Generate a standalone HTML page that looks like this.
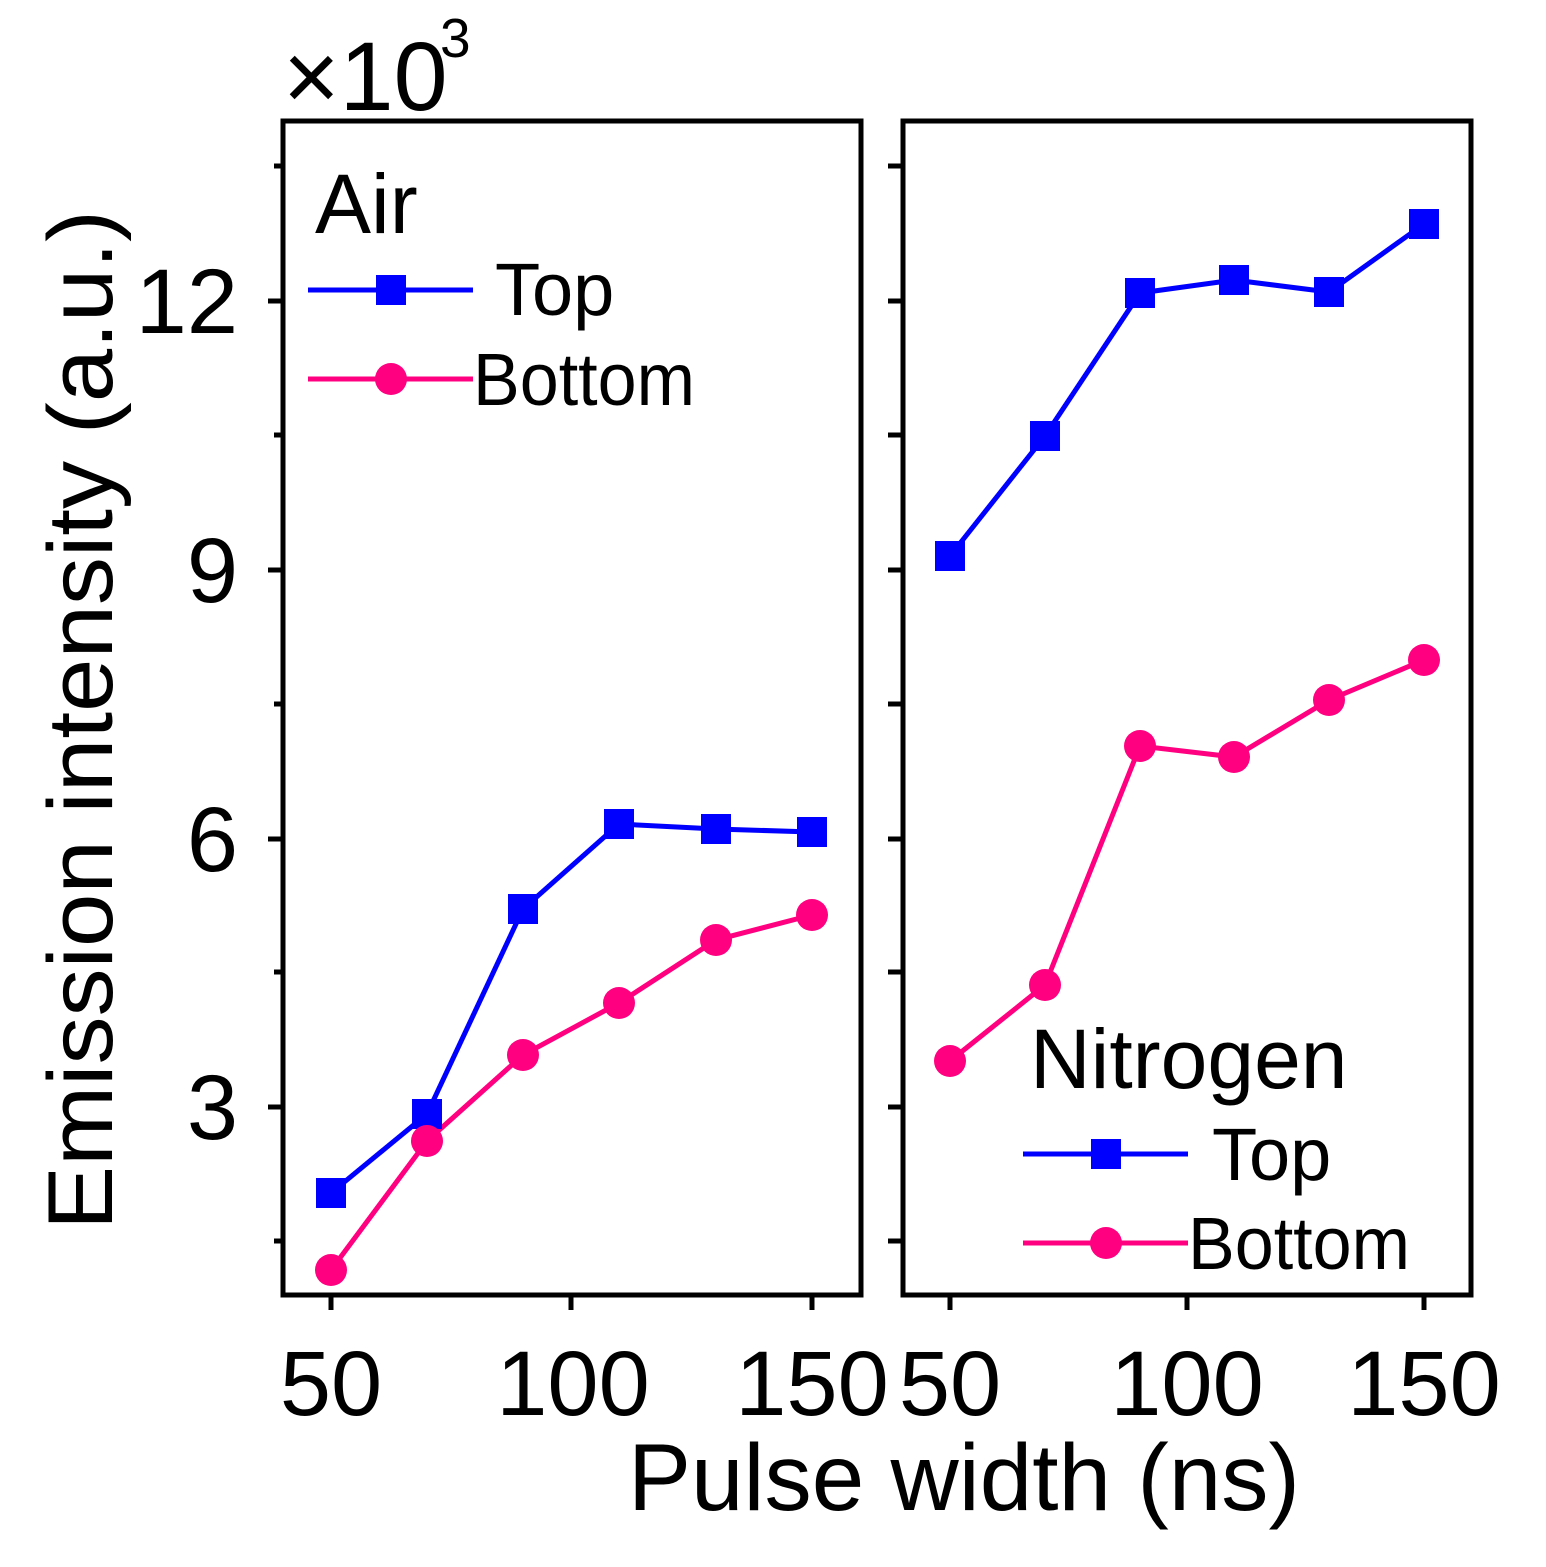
<!DOCTYPE html>
<html><head><meta charset="utf-8"><style>body{margin:0;background:#fff}</style></head><body>
<svg width="1546" height="1562" xmlns="http://www.w3.org/2000/svg" font-family="Liberation Sans, sans-serif">
<rect width="1546" height="1562" fill="#fff"/>
<g stroke="#000" stroke-width="5" fill="none">
<rect x="283" y="121" width="578" height="1174"/>
<rect x="903" y="121" width="568" height="1174"/>
<path d="M268 301H283M268 570H283M268 839H283M268 1107H283M274 166H283M274 435H283M274 704H283M274 972H283M274 1241H283"/>
<path d="M888 301H903M888 570H903M888 839H903M888 1107H903M888 166H903M888 435H903M888 704H903M888 972H903M888 1241H903"/>
<path d="M331 1295V1310M571 1295V1310M812 1295V1310M950 1295V1310M1187 1295V1310M1424 1295V1310"/>
</g>
<g font-size="92" text-anchor="end">
<text x="238" y="333">12</text><text x="238" y="602">9</text><text x="238" y="871">6</text><text x="238" y="1139">3</text>
</g>
<g font-size="92" text-anchor="middle">
<text x="331" y="1415">50</text><text x="573" y="1415">100</text><text x="812" y="1415">150</text>
<text x="950" y="1415">50</text><text x="1187" y="1415">100</text><text x="1424" y="1415">150</text>
</g>
<text x="964" y="1510" font-size="95" text-anchor="middle" textLength="672" lengthAdjust="spacingAndGlyphs">Pulse width (ns)</text>
<text transform="translate(112,720) rotate(-90)" font-size="92" text-anchor="middle" textLength="1020" lengthAdjust="spacingAndGlyphs">Emission intensity (a.u.)</text>
<text x="283" y="110" font-size="97">×10</text>
<text x="440" y="57" font-size="55">3</text>
<polyline points="331,1193 427,1114 523,909 619,824 716,829 812,832" fill="none" stroke="#0000ff" stroke-width="5"/>
<polyline points="331,1270 427,1141 523,1055 619,1003 716,940 812,915" fill="none" stroke="#ff0080" stroke-width="5"/>
<g fill="#0000ff"><rect x="316" y="1178" width="30" height="30"/><rect x="412" y="1099" width="30" height="30"/><rect x="508" y="894" width="30" height="30"/><rect x="604" y="809" width="30" height="30"/><rect x="701" y="814" width="30" height="30"/><rect x="797" y="817" width="30" height="30"/></g>
<g fill="#ff0080"><circle cx="331" cy="1270" r="16"/><circle cx="427" cy="1141" r="16"/><circle cx="523" cy="1055" r="16"/><circle cx="619" cy="1003" r="16"/><circle cx="716" cy="940" r="16"/><circle cx="812" cy="915" r="16"/></g>
<polyline points="950,556 1045,436 1140,293 1234,280 1329,292 1424,224" fill="none" stroke="#0000ff" stroke-width="5"/>
<polyline points="950,1061 1045,985 1140,746 1234,757 1329,700 1424,660" fill="none" stroke="#ff0080" stroke-width="5"/>
<g fill="#0000ff"><rect x="935" y="541" width="30" height="30"/><rect x="1030" y="421" width="30" height="30"/><rect x="1125" y="278" width="30" height="30"/><rect x="1219" y="265" width="30" height="30"/><rect x="1314" y="277" width="30" height="30"/><rect x="1409" y="209" width="30" height="30"/></g>
<g fill="#ff0080"><circle cx="950" cy="1061" r="16"/><circle cx="1045" cy="985" r="16"/><circle cx="1140" cy="746" r="16"/><circle cx="1234" cy="757" r="16"/><circle cx="1329" cy="700" r="16"/><circle cx="1424" cy="660" r="16"/></g>
<text x="315" y="233" font-size="84">Air</text>
<line x1="308" y1="290" x2="473" y2="290" stroke="#0000ff" stroke-width="5"/><rect x="376" y="275" width="30" height="30" fill="#0000ff"/>
<text x="495" y="315" font-size="74">Top</text>
<line x1="308" y1="379" x2="473" y2="379" stroke="#ff0080" stroke-width="5"/><circle cx="391" cy="379" r="16" fill="#ff0080"/>
<text x="473" y="405" font-size="74" textLength="222" lengthAdjust="spacingAndGlyphs">Bottom</text>
<text x="1030" y="1088" font-size="84">Nitrogen</text>
<line x1="1023" y1="1154" x2="1188" y2="1154" stroke="#0000ff" stroke-width="5"/><rect x="1091" y="1139" width="30" height="30" fill="#0000ff"/>
<text x="1212" y="1180" font-size="74">Top</text>
<line x1="1023" y1="1243" x2="1188" y2="1243" stroke="#ff0080" stroke-width="5"/><circle cx="1106" cy="1243" r="16" fill="#ff0080"/>
<text x="1188" y="1269" font-size="74" textLength="222" lengthAdjust="spacingAndGlyphs">Bottom</text>
</svg>
</body></html>
